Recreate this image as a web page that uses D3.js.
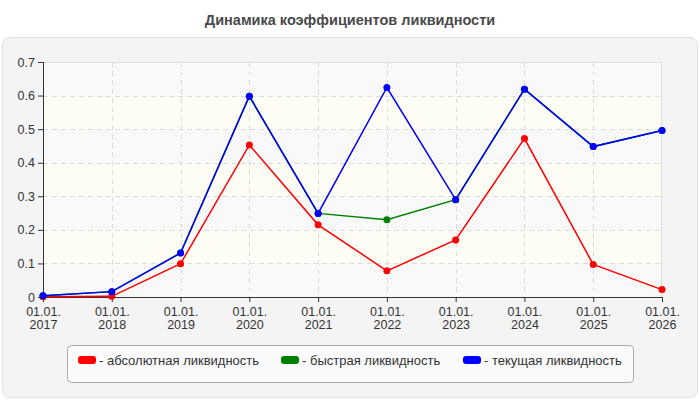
<!DOCTYPE html>
<html>
<head>
<meta charset="utf-8">
<script src="https://cdn.jsdelivr.net/npm/d3@7"></script>
<style>
  body { margin: 0; background: #fff; font-family: "Liberation Sans", Arial, sans-serif; }
</style>
</head>
<body>
<div class="chart"></div>
<script>
// data
var years = ["2017", "2018", "2019", "2020", "2021", "2022", "2023", "2024", "2025", "2026"];
var absLiq = [0.001, 0.002, 0.099, 0.453, 0.215, 0.078, 0.170, 0.472, 0.097, 0.022];
var quickLiq = [0.004, 0.016, 0.131, 0.598, 0.249, 0.230, 0.290, 0.619, 0.448, 0.496];
var curLiq = [0.004, 0.016, 0.131, 0.598, 0.249, 0.624, 0.290, 0.619, 0.448, 0.496];
var yTicks = [0, 0.1, 0.2, 0.3, 0.4, 0.5, 0.6, 0.7];
var seriesNames = ["- абсолютная ликвидность", "- быстрая ликвидность", "- текущая ликвидность"];
var seriesColors = ["#ff0000", "#008000", "#0000ff"];

var svgWidth = 700;
var svgHeight = 400;
var margin = { top: 62, right: 38, bottom: 103, left: 43 };
var width = svgWidth - margin.left - margin.right;
var height = svgHeight - margin.top - margin.bottom;

var svg = d3.select(".chart").append("svg")
  .attr("width", svgWidth)
  .attr("height", svgHeight);

// hatch pattern
var defs = svg.append("defs");
var pat = defs.append("pattern")
  .attr("id", "hatch")
  .attr("patternUnits", "userSpaceOnUse")
  .attr("width", 4).attr("height", 4);
pat.append("rect").attr("width", 4).attr("height", 4).attr("fill", "#ffffff");
pat.append("path")
  .attr("d", "M-1,1 l2,-2 M0,4 l4,-4 M3,5 l2,-2")
  .attr("stroke", "#ececec")
  .attr("stroke-width", 1);

// title
svg.append("text")
  .attr("x", 350).attr("y", 25)
  .attr("text-anchor", "middle")
  .attr("font-size", 14.5)
  .attr("font-weight", "bold")
  .attr("fill", "#4a4a4a")
  .text("Динамика коэффициентов ликвидности");

// background panel
svg.append("rect")
  .attr("x", 2.5).attr("y", 37.5)
  .attr("width", 695).attr("height", 360)
  .attr("rx", 7)
  .attr("fill", "#f4f4f4")
  .attr("stroke", "#e2e2e2");

var chartGroup = svg.append("g")
  .attr("transform", `translate(${margin.left}, ${margin.top})`);

var x = d3.scalePoint().domain(years).range([0, width]);
var y = d3.scaleLinear().domain([0, 0.7]).range([height, 0]);

// alternating bands
var bands = d3.range(7);
chartGroup.selectAll("rect.band")
  .data(bands)
  .enter()
  .append("rect")
  .attr("class", "band")
  .attr("x", 0)
  .attr("y", d => y((d + 1) / 10))
  .attr("width", width)
  .attr("height", d => y(d / 10) - y((d + 1) / 10))
  .attr("fill", d => d % 2 === 0 ? "url(#hatch)" : "#fdfdf5");

// frame top/right
chartGroup.append("path")
  .attr("d", `M0,0.5 H${width - 0.5} V${height}`)
  .attr("fill", "none")
  .attr("stroke", "#dcdcdc");

// grid
chartGroup.selectAll("line.hgrid")
  .data(yTicks.slice(1, -1))
  .enter()
  .append("line")
  .attr("x1", 0).attr("x2", width)
  .attr("y1", d => Math.round(y(d)) + 0.5)
  .attr("y2", d => Math.round(y(d)) + 0.5)
  .attr("stroke", "#dcdcdc")
  .attr("stroke-dasharray", "5,4");

chartGroup.selectAll("line.vgrid")
  .data(years.slice(1, -1))
  .enter()
  .append("line")
  .attr("x1", d => Math.round(x(d)) + 0.5)
  .attr("x2", d => Math.round(x(d)) + 0.5)
  .attr("y1", 0).attr("y2", height)
  .attr("stroke", "#dcdcdc")
  .attr("stroke-dasharray", "5,4");

// axes
var leftAxis = d3.axisLeft(y)
  .tickValues(yTicks)
  .tickSize(5)
  .tickPadding(3)
  .tickFormat(d => d === 0 ? "0" : d3.format(".1f")(d));

var bottomAxis = d3.axisBottom(x)
  .tickSize(5)
  .tickPadding(3)
  .tickFormat("");

var yAxis = chartGroup.append("g").call(leftAxis);
yAxis.select(".domain").attr("stroke", "#333").attr("d", `M0.5,0V${height}`);
yAxis.selectAll(".tick line").attr("stroke", "#333");
yAxis.selectAll("text")
  .attr("font-family", "Liberation Sans, Arial, sans-serif")
  .attr("font-size", 12.5)
  .attr("fill", "#333");

var xAxis = chartGroup.append("g")
  .attr("transform", `translate(0, ${height})`)
  .call(bottomAxis);
xAxis.select(".domain").attr("stroke", "#333").attr("d", `M0,0.5H${width}`);
xAxis.selectAll(".tick line").attr("stroke", "#333");
xAxis.selectAll(".tick text").remove();
xAxis.selectAll(".tick").each(function(d) {
  var t = d3.select(this).append("text")
    .attr("text-anchor", "middle")
    .attr("font-family", "Liberation Sans, Arial, sans-serif")
    .attr("font-size", 12.5)
    .attr("fill", "#333");
  t.append("tspan").attr("x", 0).attr("y", 19).text("01.01.");
  t.append("tspan").attr("x", 0).attr("y", 32).text(d);
});

// lines
var allSeries = [absLiq, quickLiq, curLiq];
var line = d3.line()
  .x((d, i) => x(years[i]))
  .y(d => y(d));

allSeries.forEach(function(vals, k) {
  chartGroup.append("path")
    .datum(vals)
    .attr("fill", "none")
    .attr("stroke", seriesColors[k])
    .attr("stroke-width", 1.5)
    .attr("d", line);
  chartGroup.selectAll("circle.s" + k)
    .data(vals)
    .enter()
    .append("circle")
    .attr("cx", (d, i) => x(years[i]))
    .attr("cy", d => y(d))
    .attr("r", 3.5)
    .attr("fill", seriesColors[k]);
});

// legend
var legend = svg.append("g");
legend.append("rect")
  .attr("x", 67.5).attr("y", 345.5)
  .attr("width", 566).attr("height", 37)
  .attr("rx", 4)
  .attr("fill", "#fafafa")
  .attr("stroke", "#aaa");

var legendX = [78, 281, 463];
seriesNames.forEach(function(name, k) {
  legend.append("rect")
    .attr("x", legendX[k]).attr("y", 356)
    .attr("width", 18).attr("height", 8)
    .attr("rx", 3)
    .attr("fill", seriesColors[k]);
  legend.append("text")
    .attr("x", legendX[k] + 21).attr("y", 365)
    .attr("font-size", 13)
    .attr("fill", "#333")
    .text(name);
});
</script>
</body>
</html>
